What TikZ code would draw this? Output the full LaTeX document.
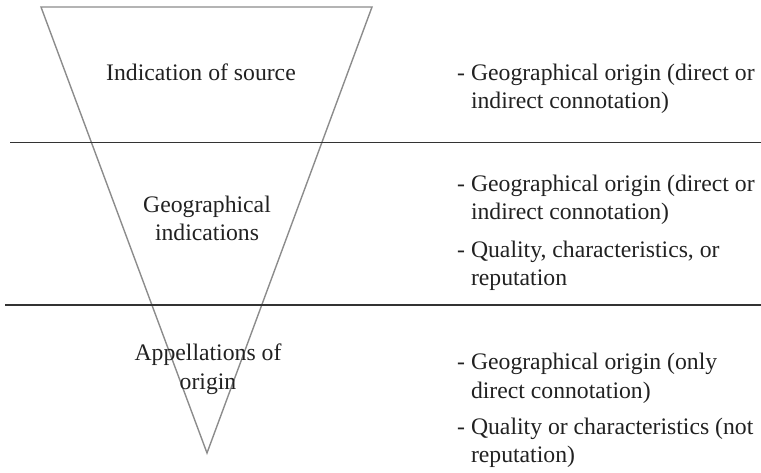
\documentclass[tikz,border=0pt]{standalone}
\usepackage{fontspec}
\setmainfont{Liberation Serif}
\begin{document}
\begin{tikzpicture}[x=1pt,y=-1pt,
  txt/.style={inner sep=0pt, text=black!87, font=\fontsize{23.7}{28.4}\selectfont},
  lft/.style={txt, anchor=base},
  rgt/.style={txt, anchor=base west},
  tri/.style={draw=black!45, line width=1.4pt, line join=miter},
  sep/.style={draw=black!80, line width=1.3pt}]
\useasboundingbox (0,0) rectangle (761,472);
% funnel
\coordinate (tl) at (41,7);
\coordinate (tr) at (372,7);
\coordinate (ap) at (207,453);
\draw[tri] (tl) -- (tr) -- (ap) -- cycle;
% separators
\coordinate (s1a) at (10,142.5);
\coordinate (s1b) at (761,142.5);
\coordinate (s2a) at (5,305);
\coordinate (s2b) at (761,305);
\draw[sep] (s1a) -- (s1b);
\draw[sep] (s2a) -- (s2b);
% left labels
\node[lft] (l1) at (201,80) {Indication of source};
\node[lft] (l2a) at (207,212) {Geographical};
\node[lft] (l2b) at (207,240) {indications};
\node[lft] (l3a) at (208,360) {Appellations of};
\node[lft] (l3b) at (208,389) {origin};
% right texts
\node[rgt] (r1a) at (457,80) {- Geographical origin (direct or};
\node[rgt] (r1b) at (457,108) {\phantom{- }indirect connotation)};
\node[rgt] (r2a) at (457,191) {- Geographical origin (direct or};
\node[rgt] (r2b) at (457,219) {\phantom{- }indirect connotation)};
\node[rgt] (r2c) at (457,257) {- Quality, characteristics, or};
\node[rgt] (r2d) at (457,285) {\phantom{- }reputation};
\node[rgt] (r3a) at (457,369) {- Geographical origin (only};
\node[rgt] (r3b) at (457,398) {\phantom{- }direct connotation)};
\node[rgt] (r3c) at (457,434) {- Quality or characteristics (not};
\node[rgt] (r3d) at (457,462) {\phantom{- }reputation)};
\end{tikzpicture}
\end{document}
